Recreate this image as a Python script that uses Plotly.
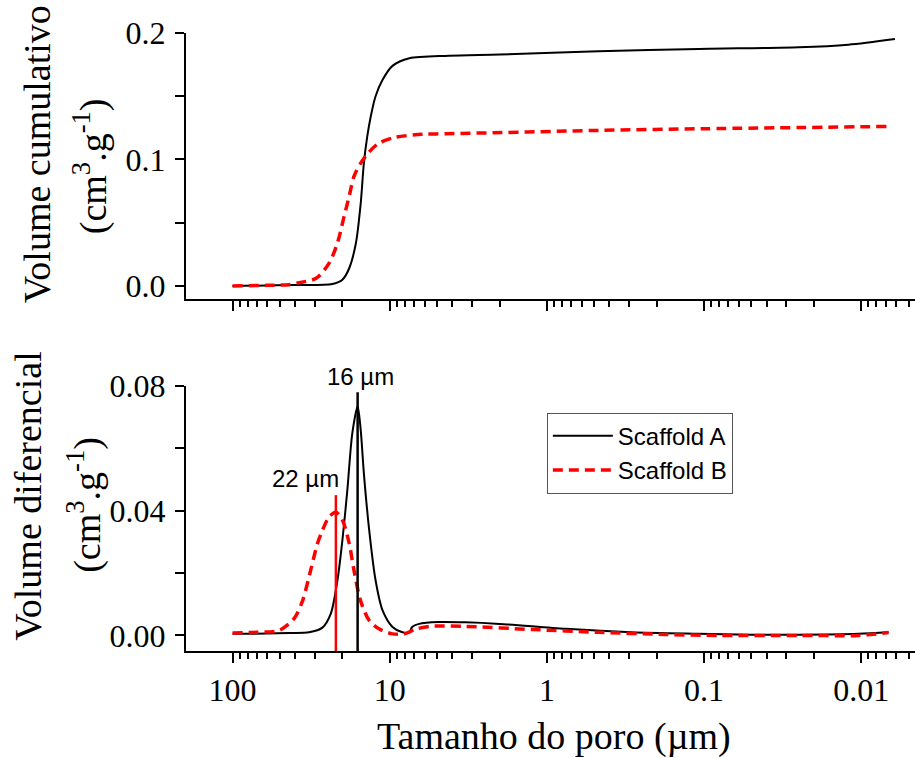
import numpy as np
import plotly.graph_objects as go

# ---------------- data (pore size in µm, volumes in cm3/g) ----------------
cum_size_A = [100, 60, 43.7, 37.7, 23.2, 20.0, 18.1, 16.4, 15.3, 14.6, 13.9, 13.2, 12.3, 11.1, 9.6, 7.5,
              4.2, 2.0, 0.47, 0.108, 0.025, 0.0121, 0.0061]
cum_A = [0.0, 0.0004, 0.0007, 0.0008, 0.0016, 0.005, 0.014, 0.034, 0.065, 0.097, 0.118, 0.134, 0.150, 0.163,
         0.174, 0.180, 0.182, 0.183, 0.1855, 0.1874, 0.1887, 0.1908, 0.1953]

cum_size_B = [100, 60, 43.7, 37.7, 29.4, 24.3, 21.5, 19.5, 18.1, 16.9, 15.3, 13.5, 11.7, 9.2, 6.2, 4.4,
              0.47, 0.1, 0.0067]
cum_B = [0.0, 0.0005, 0.001, 0.0026, 0.006, 0.018, 0.034, 0.055, 0.071, 0.0865, 0.097, 0.106, 0.113, 0.1175,
         0.120, 0.1203, 0.123, 0.1243, 0.1261]

dif_size_A = [100, 60, 43.7, 32.6, 26.8, 23.7, 21.5, 20.0, 18.6, 17.3, 16.0, 15.3, 14.6, 13.5, 12.3, 11.1,
              9.6, 8.3, 7.5, 7.2, 6.5, 4.9, 3.3, 2.0, 0.76, 0.29, 0.108, 0.05, 0.025, 0.0104, 0.0067]
dif_A = [0.0005, 0.0006, 0.0008, 0.001, 0.0025, 0.007, 0.0177, 0.0305, 0.0466, 0.0648, 0.0735, 0.066, 0.052,
         0.0337, 0.0177, 0.008, 0.0027, 0.001, 0.001, 0.0027, 0.0037, 0.0043, 0.0042, 0.0037, 0.0021, 0.001,
         0.0005, 0.0002, 0.0002, 0.0005, 0.001]

dif_size_B = [100, 70, 50.5, 40.6, 35.9, 31.8, 28.8, 26.8, 24.3, 22.0, 20.0, 18.1, 16.9, 15.3, 13.5, 11.7,
              9.6, 8.1, 6.84, 5.62, 3.29, 1.24, 0.468, 0.177, 0.081, 0.025, 0.0104, 0.0067]
dif_B = [0.0008, 0.001, 0.0016, 0.0054, 0.011, 0.021, 0.0295, 0.0337, 0.038, 0.0395, 0.037, 0.0295, 0.021,
         0.011, 0.0048, 0.0021, 0.0005, 0.0005, 0.002, 0.0029, 0.0029, 0.0019, 0.001, 0.0003, 0.0, 0.0, 0.0,
         0.0009]

peak_sizes = [16, 22]
peak_heights = [0.078, 0.045]
peak_labels = ["16 µm", "22 µm"]

x_tick_vals = [100, 10, 1, 0.1, 0.01]
x_tick_text = ["100", "10", "1", "0.1", "0.01"]

# ---------------- figure ----------------
SERIF = "Liberation Serif"
SANS = "Liberation Sans"
RED = "#FF0000"

fig = go.Figure()

fig.add_trace(go.Scatter(x=cum_size_A, y=cum_A, mode="lines", xaxis="x", yaxis="y",
                         line=dict(color="black", width=2, shape="spline", smoothing=0.8),
                         showlegend=False))
fig.add_trace(go.Scatter(x=cum_size_B, y=cum_B, mode="lines", xaxis="x", yaxis="y",
                         line=dict(color=RED, width=3.5, dash="10px,6px", shape="spline", smoothing=0.8),
                         showlegend=False))

fig.add_trace(go.Scatter(x=dif_size_A, y=dif_A, mode="lines", xaxis="x2", yaxis="y2", name="Scaffold A",
                         line=dict(color="black", width=2, shape="spline", smoothing=0.8)))
fig.add_trace(go.Scatter(x=dif_size_B, y=dif_B, mode="lines", xaxis="x2", yaxis="y2", name="Scaffold B",
                         line=dict(color=RED, width=3.5, dash="10px,6px", shape="spline", smoothing=0.8)))

y2_min = -0.005
peak_colors = ["black", RED]
peak_widths = [2.5, 2.5]
for s, h, c, w in zip(peak_sizes, peak_heights, peak_colors, peak_widths):
    fig.add_trace(go.Scatter(x=[s, s], y=[y2_min, h], mode="lines", xaxis="x2", yaxis="y2",
                             line=dict(color=c, width=w), showlegend=False, hoverinfo="skip"))

x_range = [2.296, -2.342]
common_x = dict(type="log", range=x_range, showline=True, linecolor="black", linewidth=2,
                ticks="outside", ticklen=10, tickwidth=2, tickcolor="black",
                tickvals=x_tick_vals, ticktext=x_tick_text, showgrid=False, zeroline=False,
                minor=dict(ticks="outside", ticklen=6, tickwidth=1.5, tickcolor="black", dtick="D1",
                           showgrid=False),
                tickfont=dict(family=SERIF, size=32, color="black"))

fig.update_layout(
    width=915, height=758,
    margin=dict(l=186, r=0, t=33, b=107),
    paper_bgcolor="white", plot_bgcolor="white",
    xaxis=dict(common_x, domain=[0, 1], anchor="y", showticklabels=False),
    xaxis2=dict(common_x, domain=[0, 1], anchor="y2", ticklabelstandoff=0),
    yaxis=dict(domain=[0.5688, 1], anchor="x", range=[-0.0107, 0.2], showline=True, linecolor="black",
               linewidth=2, ticks="outside", ticklen=9, tickwidth=2, tickcolor="black", dtick=0.1,
               tick0=0, tickformat=".1f", showgrid=False, zeroline=False, ticklabelstandoff=3,
               minor=dict(ticks="outside", ticklen=9, tickwidth=2, tickcolor="black", dtick=0.05,
                          showgrid=False),
               tickfont=dict(family=SERIF, size=32, color="black")),
    yaxis2=dict(domain=[0, 0.4288], anchor="x2", range=[y2_min, 0.08], showline=True, linecolor="black",
                linewidth=2, ticks="outside", ticklen=9, tickwidth=2, tickcolor="black", dtick=0.04,
                tick0=0, tickformat=".2f", showgrid=False, zeroline=False, ticklabelstandoff=3,
                minor=dict(ticks="outside", ticklen=9, tickwidth=2, tickcolor="black", dtick=0.02,
                           showgrid=False),
                tickfont=dict(family=SERIF, size=32, color="black")),
    legend=dict(x=0.495, y=0.3855, xanchor="left", yanchor="top", bgcolor="white",
                bordercolor="#555555", borderwidth=1, itemwidth=60,
                font=dict(family=SANS, size=24, color="black")),
    showlegend=True,
)

ann = []
title_font = dict(family=SERIF, size=38, color="black")
ann.append(dict(text="Volume cumulativo", xref="paper", yref="paper", x=-0.2044, y=0.8039,
                textangle=-90, showarrow=False, xanchor="center", yanchor="middle", font=title_font))
ann.append(dict(text="(cm<sup>3</sup>.g<sup>-1</sup>)", xref="paper", yref="paper", x=-0.1317, y=0.7844,
                textangle=-90, showarrow=False, xanchor="center", yanchor="middle", font=title_font))
ann.append(dict(text="Volume diferencial", xref="paper", yref="paper", x=-0.2167, y=0.2496,
                textangle=-90, showarrow=False, xanchor="center", yanchor="middle", font=title_font))
ann.append(dict(text="(cm<sup>3</sup>.g<sup>-1</sup>)", xref="paper", yref="paper", x=-0.1385, y=0.2366,
                textangle=-90, showarrow=False, xanchor="center", yanchor="middle", font=title_font))
ann.append(dict(text="Tamanho do poro (µm)", xref="paper", yref="paper", x=0.5048, y=-0.139,
                showarrow=False, xanchor="center", yanchor="middle", font=title_font))
# peak labels
lab_font = dict(family=SANS, size=24, color="black")
ann.append(dict(text=peak_labels[0], xref="x2", yref="paper", x=np.log10(peak_sizes[0]), y=0.4434,
                xshift=3, showarrow=False, xanchor="center", yanchor="middle", font=lab_font))
ann.append(dict(text=peak_labels[1], xref="x2", yref="y2", x=np.log10(peak_sizes[1]), y=0.0504,
                xshift=-30, showarrow=False, xanchor="center", yanchor="middle", font=lab_font))
fig.update_layout(annotations=ann)

fig.write_html("out.html")
